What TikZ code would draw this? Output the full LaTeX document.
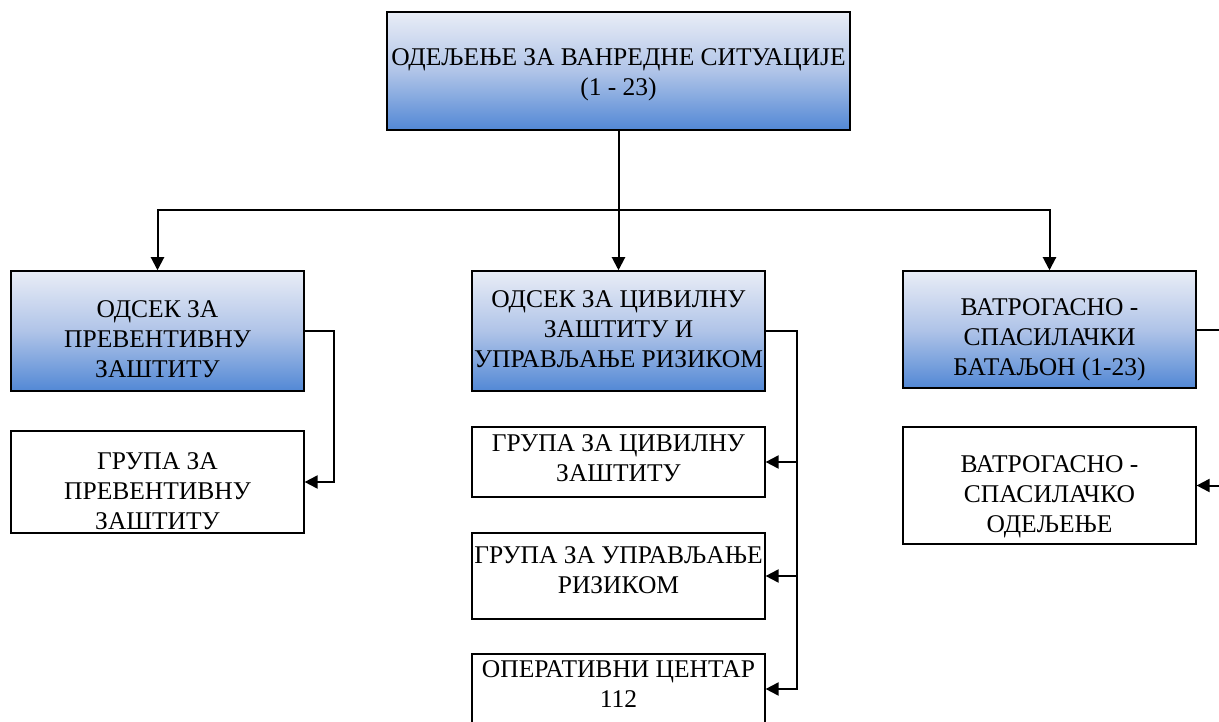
\documentclass[tikz,border=0pt]{standalone}
\usepackage{fontspec}
\setmainfont{Liberation Serif}
\usetikzlibrary{arrows.meta,positioning}

\definecolor{boxtop}{RGB}{233,237,246}
\definecolor{boxmid}{RGB}{176,196,232}
\definecolor{boxbottom}{RGB}{82,136,213}

\tikzset{
  labelfont/.style={font=\fontsize{25.5}{30}\selectfont},
  boxtext/.style={align=center, labelfont, inner sep=0pt},
  headbox/.style={draw=black, line width=1.5pt, top color=boxtop, bottom color=boxbottom, middle color=boxmid,
    inner sep=0pt, minimum width=293pt, minimum height=120pt},
  unitbox/.style={draw=black, line width=1.2pt, fill=white, inner sep=0pt, minimum width=293pt},
  link/.style={line width=2pt, -{Triangle[width=13pt,length=13pt]}},
  bus/.style={line width=2pt},
}

\begin{document}
\begin{tikzpicture}[x=1pt, y=-1pt]
    \useasboundingbox (0,0) rectangle (1219,722);
    \clip (0,0) rectangle (1219,722);

    % Top: department
    \node[headbox, minimum width=463pt, minimum height=118pt] (dept) at (618.5,71) {};
    \node[boxtext] (dept-text) at ([yshift=-4pt]dept.center) {ОДЕЉЕЊЕ ЗА ВАНРЕДНЕ СИТУАЦИЈЕ\\(1 - 23)};

    % Second row: sections
    \node[headbox] (prev) at (157.5,331) {};
    \node[boxtext] (prev-text) at ([yshift=-8pt]prev.center) {ОДСЕК ЗА\\ПРЕВЕНТИВНУ\\ЗАШТИТУ};
    \node[headbox] (civil) at (618.5,331) {};
    \node[boxtext] (civil-text) at ([yshift=2pt]civil.center) {ОДСЕК ЗА ЦИВИЛНУ\\ЗАШТИТУ И\\УПРАВЉАЊЕ РИЗИКОМ};
    \node[headbox, minimum height=117pt] (fire) at (1049.5,329.5) {};
    \node[boxtext] (fire-text) at ([yshift=-10pt]fire.center) {ВАТРОГАСНО -\\СПАСИЛАЧКИ\\БАТАЉОН (1-23)};

    % Groups under each section
    \node[unitbox, minimum height=102pt] (prevgrp) at (157.5,482) {};
    \node[boxtext] (prevgrp-text) at ([yshift=-9pt]prevgrp.center) {ГРУПА ЗА\\ПРЕВЕНТИВНУ\\ЗАШТИТУ};
    \node[unitbox, minimum height=70pt] (civgrp) at (618.5,462) {};
    \node[boxtext] (civgrp-text) at ([yshift=4pt]civgrp.center) {ГРУПА ЗА ЦИВИЛНУ\\ЗАШТИТУ};
    \node[unitbox, minimum height=86pt] (riskgrp) at (618.5,576) {};
    \node[boxtext] (riskgrp-text) at ([yshift=6pt]riskgrp.center) {ГРУПА ЗА УПРАВЉАЊЕ\\РИЗИКОМ};
    \node[unitbox, minimum height=70pt] (opcenter) at (618.5,689) {};
    \node[boxtext] (opcenter-text) at ([yshift=5pt]opcenter.center) {ОПЕРАТИВНИ ЦЕНТАР\\112};
    \node[unitbox, minimum height=117pt] (firegrp) at (1049.5,485.5) {};
    \node[boxtext] (firegrp-text) at ([yshift=-11pt]firegrp.center) {ВАТРОГАСНО -\\СПАСИЛАЧКО\\ОДЕЉЕЊЕ};

    % Department to sections
    \coordinate (split) at (618.5,210);
    \draw[bus] (dept.south) -- (split);
    \draw[link] (split) -| (prev.north);
    \draw[link] (split) -- (civil.north);
    \draw[link] (split) -| (fire.north);

    % Sections to groups
    \draw[link] (prev.east) -- ++(29,0) |- (prevgrp.east);
    \draw[link] (civil.east) -- ++(31,0) |- (civgrp.east);
    \draw[link] (civil.east) -- ++(31,0) |- (riskgrp.east);
    \draw[link] (civil.east) -- ++(31,0) |- (opcenter.east);
    \coordinate (firebus) at (1232,329.5);
    \draw[bus] (fire.east) -- (firebus);
    \draw[link] (firebus) |- (firegrp.east);
\end{tikzpicture}
\end{document}
